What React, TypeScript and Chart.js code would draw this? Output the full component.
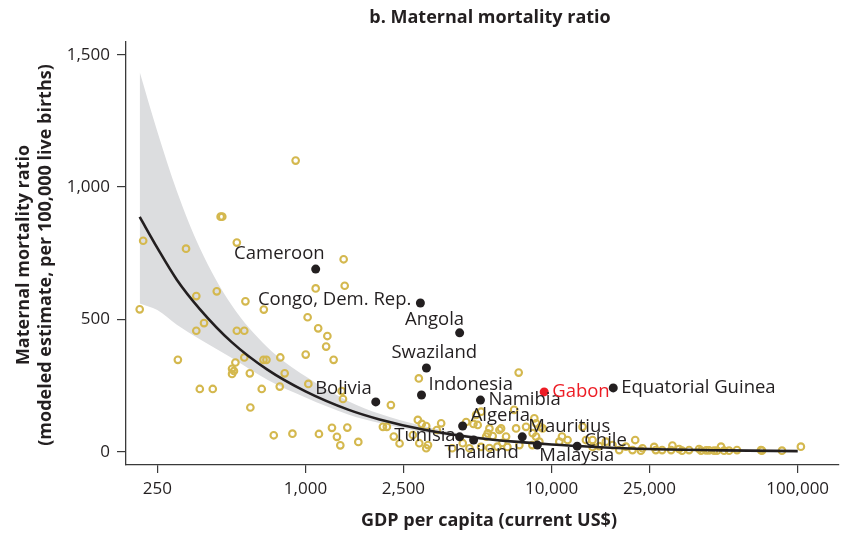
import React, { useEffect, useRef } from "react";
import { Chart, registerables } from "chart.js";

Chart.register(...registerables);

// ---------- DATA ----------
const xTicks = [250, 1000, 2500, 10000, 25000, 100000];
const yTicks = [0, 500, 1000, 1500];

// other countries (hollow yellow circles)
const otherGdp = [
  212, 219, 303, 327, 360, 360, 372, 387, 420, 436, 452, 459, 503, 503, 512, 519, 526, 526, 564, 564,
  570, 594, 597, 664, 675, 694, 677, 743, 790, 786, 823, 885, 912, 1002, 1020, 1027, 1100, 1126, 1134, 1213,
  1227, 1281, 1301, 1342, 1385, 1403, 1420, 1429, 1443, 1479, 1639, 2063, 2141, 2223, 2284, 2411, 2731, 2887, 2861, 2969,
  3094, 2900, 3146, 3416, 3558, 3944, 4355, 4495, 4636, 4813, 4935, 5170, 5009, 5500, 5762, 5418, 5588, 6233, 6135, 6531,
  7040, 7172, 7348, 7396, 6310, 7873, 8508, 8374, 8645, 8916, 9194, 10745, 11020, 11612, 13360, 13790, 14670, 16620, 17680, 18820,
  20040, 21310, 21860, 23060, 23400, 26100, 26510, 28120, 30590, 30960, 32960, 33890, 36190, 39730, 40480, 42420, 43630, 45710, 47000, 48790,
  50190, 52600, 56660, 70920, 71590, 86300, 103000, 3094, 15610, 5170, 5588, 6022, 6610, 8350, 8645, 9010, 14670,
];
const otherMmr = [
  538, 797, 347, 767, 588, 457, 237, 486, 237, 606, 888, 888, 313, 294, 305, 337, 790, 457, 457, 356,
  568, 296, 167, 237, 347, 347, 537, 62, 356, 246, 296, 68, 1100, 367, 508, 256, 617, 466, 67, 397,
  437, 90, 347, 56, 24, 229, 199, 727, 627, 91, 37, 94, 94, 176, 57, 31, 63, 277, 120, 105,
  97, 32, 25, 82, 107, 13, 32, 112, 13, 105, 139, 151, 101, 69, 59, 57, 88, 88, 82, 57,
  158, 88, 299, 25, 33, 94, 126, 70, 57, 38, 88, 38, 57, 44, 94, 44, 44, 38, 25, 6,
  19, 6, 44, 4, 13, 18, 6, 6, 6, 23, 10, 4, 6, 10, 4, 5, 5, 4, 4, 19,
  4, 4, 6, 6, 4, 4, 19, 13, 21, 18, 14, 19, 18, 25, 107, 94, 18,
];

// highlighted countries
const labeledNames = [
  "Cameroon", "Congo, Dem. Rep.", "Angola", "Swaziland", "Indonesia", "Bolivia", "Namibia", "Gabon",
  "Equatorial Guinea", "Algeria", "Tunisia", "Thailand", "Mauritius", "Malaysia", "Chile",
];
const labeledGdp = [1100, 2930, 4230, 3100, 2960, 1930, 5140, 9330, 17800, 4350, 4230, 4820, 7600, 8750, 12700];
const labeledMmr = [690, 562, 449, 316, 214, 188, 195, 226, 241, 97, 56, 44, 56, 25, 21];

// fitted curve and its confidence band
const fitGdp = [212, 250, 300, 372, 500, 700, 1000, 1500, 2000, 3000, 5000, 7500, 10000, 15000, 25000, 50000, 100000];
const fitMmr = [887, 770, 650, 539, 415, 310, 228, 158, 122, 84, 52, 36, 27, 18, 10, 5, 2];
const bandUpper = [1435, 1210, 985, 770, 555, 395, 285, 190, 143, 97, 58, 39, 29, 19.5, 11, 5.5, 2.5];
const bandLower = [560, 535, 480, 425, 355, 272, 205, 140, 108, 74, 47, 33, 25, 16.5, 9, 4.5, 1.5];

// ---------- STYLE ----------
const DARK = "#231F20";
const AXIS = "#3a3a3a";
const YELLOW = "#D4B84E";
const RED = "#ED1C24";
const BAND = "#DCDDDF";
const FONT = '"Open Sans", "DejaVu Sans", sans-serif';

// label placement: [dx, dy, align]
const labelPlacement: [number, number, CanvasTextAlign][] = [
  [9, -15, "right"],
  [-9, -3, "right"],
  [4.5, -13, "right"],
  [-35, -15, "left"],
  [7, -10, "left"],
  [-4, -13, "right"],
  [8, 0, "left"],
  [8, 0, "left"],
  [8, 0, "left"],
  [8, -10, "left"],
  [-4, -1, "right"],
  [-29, 13, "left"],
  [6, -10, "left"],
  [2, 11, "left"],
  [7, -5, "left"],
];

const fmt = (v: number) => Number(v).toLocaleString("en-US");

const textPlugin = {
  id: "texts",
  afterDatasetsDraw(chart: any) {
    const { ctx } = chart;
    const xs = chart.scales.x;
    const ys = chart.scales.y;
    ctx.save();
    ctx.font = `18.5px ${FONT}`;
    ctx.textBaseline = "middle";
    labeledNames.forEach((name, i) => {
      const px = xs.getPixelForValue(labeledGdp[i]);
      const py = ys.getPixelForValue(labeledMmr[i]);
      const [dx, dy, align] = labelPlacement[i];
      ctx.fillStyle = name === "Gabon" ? RED : DARK;
      ctx.textAlign = align;
      ctx.fillText(name, px + dx, py + dy);
    });
    ctx.restore();
  },
  afterDraw(chart: any) {
    const { ctx } = chart;
    ctx.save();
    ctx.fillStyle = DARK;
    ctx.textAlign = "center";
    ctx.textBaseline = "middle";
    ctx.font = `bold 18px ${FONT}`;
    ctx.fillText("b. Maternal mortality ratio", 490, 18);
    ctx.fillText("GDP per capita (current US$)", 489, 521);
    ctx.translate(0, 255);
    ctx.rotate(-Math.PI / 2);
    ctx.fillText("Maternal mortality ratio", 0, 24);
    ctx.fillText("(modeled estimate, per 100,000 live births)", 0, 46);
    ctx.restore();
  },
};

export default function App() {
  const ref = useRef<HTMLCanvasElement | null>(null);

  useEffect(() => {
    if (!ref.current) return;
    const chart = new Chart(ref.current, {
      type: "scatter",
      data: {
        datasets: [
          {
            type: "scatter",
            label: "highlighted",
            data: labeledGdp.map((g, i) => ({ x: g, y: labeledMmr[i] })),
            pointRadius: 4.5,
            pointBorderWidth: 0,
            backgroundColor: labeledNames.map((n) => (n === "Gabon" ? RED : DARK)),
            borderColor: labeledNames.map((n) => (n === "Gabon" ? RED : DARK)),
            order: 0,
          },
          {
            type: "line",
            label: "fit",
            data: fitGdp.map((g, i) => ({ x: g, y: fitMmr[i] })),
            borderColor: DARK,
            borderWidth: 2.6,
            pointRadius: 0,
            cubicInterpolationMode: "monotone",
            fill: false,
            order: 1,
          },
          {
            type: "scatter",
            label: "others",
            data: otherGdp.map((g, i) => ({ x: g, y: otherMmr[i] })),
            pointRadius: 3.3,
            pointBorderWidth: 2.1,
            borderColor: YELLOW,
            backgroundColor: "rgba(0,0,0,0)",
            order: 2,
          },
          {
            type: "line",
            label: "upper",
            data: fitGdp.map((g, i) => ({ x: g, y: bandUpper[i] })),
            borderWidth: 0,
            borderColor: BAND,
            backgroundColor: BAND,
            pointRadius: 0,
            cubicInterpolationMode: "monotone",
            fill: "+1",
            order: 3,
          },
          {
            type: "line",
            label: "lower",
            data: fitGdp.map((g, i) => ({ x: g, y: bandLower[i] })),
            borderWidth: 0,
            borderColor: BAND,
            backgroundColor: BAND,
            pointRadius: 0,
            cubicInterpolationMode: "monotone",
            fill: false,
            order: 4,
          },
        ],
      },
      options: {
        animation: false,
        responsive: false,
        devicePixelRatio: 1,
        events: [],
        layout: { padding: { top: 42, right: 5, left: 0, bottom: 0 } },
        plugins: { legend: { display: false }, tooltip: { enabled: false }, title: { display: false } },
        scales: {
          x: {
            type: "logarithmic",
            min: 186.5,
            max: 147000,
            afterFit: (s: any) => {
              s.height = 71;
            },
            afterBuildTicks: (s: any) => {
              s.ticks = xTicks.map((v) => ({ value: v }));
            },
            ticks: {
              autoSkip: false,
              maxRotation: 0,
              padding: 6,
              color: DARK,
              font: { family: FONT, size: 17 },
              callback: (v: any) => fmt(v),
            },
            grid: { display: true, drawOnChartArea: false, drawTicks: true, tickLength: 8, color: AXIS, lineWidth: 1.2 },
            border: { display: true, color: AXIS, width: 1.3 },
          },
          y: {
            type: "linear",
            min: -50.3,
            max: 1548,
            afterFit: (s: any) => {
              s.width = 126;
            },
            afterBuildTicks: (s: any) => {
              s.ticks = yTicks.map((v) => ({ value: v }));
            },
            ticks: {
              padding: 7,
              color: DARK,
              font: { family: FONT, size: 17 },
              callback: (v: any) => fmt(v),
            },
            grid: { display: true, drawOnChartArea: false, drawTicks: true, tickLength: 9, color: AXIS, lineWidth: 1.2 },
            border: { display: true, color: AXIS, width: 1.3 },
          },
        },
      },
      plugins: [textPlugin],
    } as any);
    return () => chart.destroy();
  }, []);

  return (
    <div style={{ position: "fixed", left: 0, top: 0, width: 845, height: 536, background: "#fff" }}>
      <canvas ref={ref} width={845} height={536} style={{ width: 845, height: 536, display: "block" }} />
    </div>
  );
}
